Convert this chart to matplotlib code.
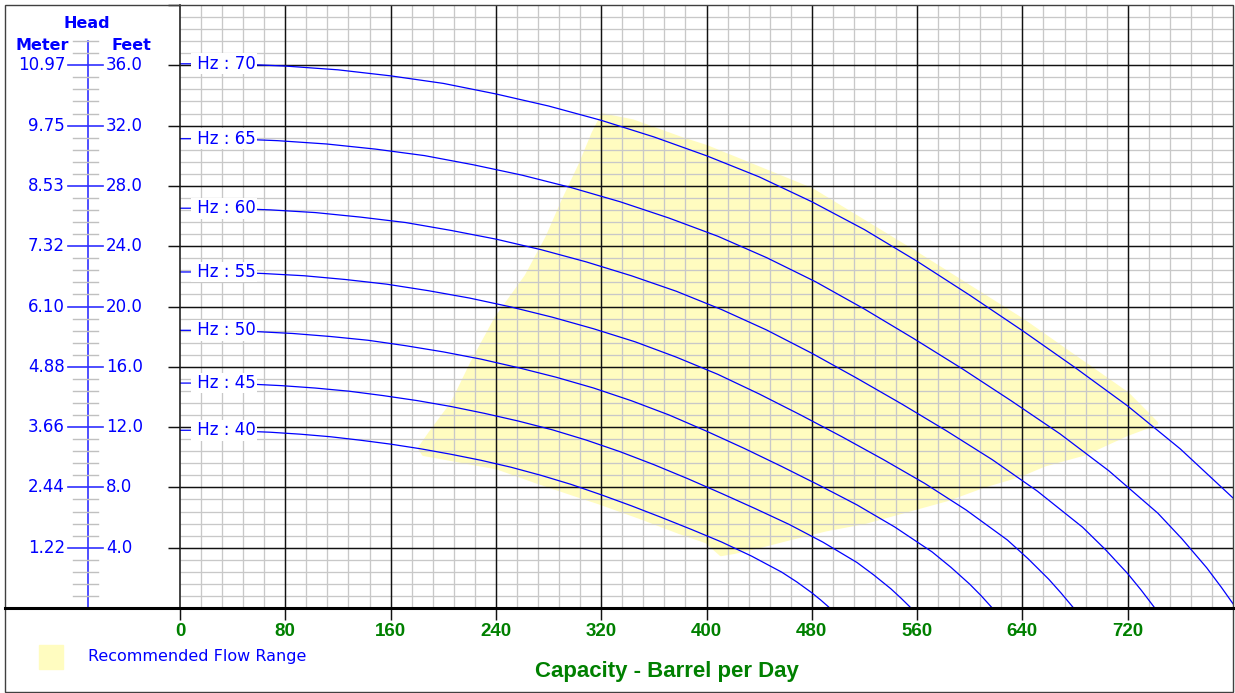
import numpy as np
import matplotlib
matplotlib.use("Agg")
import matplotlib.pyplot as plt
from matplotlib import transforms
from matplotlib.patches import Rectangle
from matplotlib.lines import Line2D
from matplotlib.ticker import FixedLocator

# ---------------- data ----------------
freqs = [70, 65, 60, 55, 50, 45, 40]

q70 = [0, 40, 80, 120, 160, 200, 240, 280, 320, 360, 400, 440, 480, 520, 560, 600, 640, 680, 720, 760, 800, 820, 840, 852, 864]
h70 = [36.1, 36.1, 35.95, 35.7, 35.3, 34.8, 34.1, 33.3, 32.35, 31.25, 30.0, 28.6, 26.95, 25.1, 23.0, 20.75, 18.4, 15.95, 13.4, 10.55, 7.3, 5.3, 3.1, 1.6, 0.0]

q65 = [0, 37.1, 74.3, 111.4, 148.6, 185.7, 222.9, 260.0, 297.1, 334.3, 371.4, 408.6, 445.7, 482.9, 520.0, 557.1, 594.3, 631.4, 668.6, 705.7, 742.9, 761.4, 780.0, 791.1, 802.3]
h65 = [31.13, 31.13, 31.00, 30.78, 30.44, 30.01, 29.40, 28.71, 27.89, 26.95, 25.87, 24.66, 23.24, 21.64, 19.83, 17.89, 15.87, 13.75, 11.55, 9.10, 6.29, 4.57, 2.67, 1.38, 0.0]

q60 = [0, 34.3, 68.6, 102.9, 137.1, 171.4, 205.7, 240.0, 274.3, 308.6, 342.9, 377.1, 411.4, 445.7, 480.0, 514.3, 548.6, 582.9, 617.1, 651.4, 685.7, 702.9, 720.0, 730.3, 740.6]
h60 = [26.52, 26.52, 26.41, 26.23, 25.93, 25.57, 25.05, 24.47, 23.77, 22.96, 22.04, 21.01, 19.80, 18.44, 16.90, 15.24, 13.52, 11.72, 9.84, 7.75, 5.36, 3.89, 2.28, 1.18, 0.0]

q55 = [0, 31.4, 62.9, 94.3, 125.7, 157.1, 188.6, 220.0, 251.4, 282.9, 314.3, 345.7, 377.1, 408.6, 440.0, 471.4, 502.9, 534.3, 565.7, 597.1, 628.6, 644.3, 660.0, 669.4, 678.9]
h55 = [22.29, 22.29, 22.19, 22.04, 21.79, 21.48, 21.05, 20.56, 19.97, 19.29, 18.52, 17.66, 16.64, 15.50, 14.20, 12.81, 11.36, 9.85, 8.27, 6.51, 4.51, 3.27, 1.91, 0.99, 0.0]

q50 = [0, 28.6, 57.1, 85.7, 114.3, 142.9, 171.4, 200.0, 228.6, 257.1, 285.7, 314.3, 342.9, 371.4, 400.0, 428.6, 457.1, 485.7, 514.3, 542.9, 571.4, 585.7, 600.0, 608.6, 617.1]
h50 = [18.42, 18.42, 18.34, 18.21, 18.01, 17.76, 17.40, 16.99, 16.51, 15.94, 15.31, 14.59, 13.75, 12.81, 11.73, 10.59, 9.39, 8.14, 6.84, 5.38, 3.72, 2.70, 1.58, 0.82, 0.0]

q45 = [0, 25.7, 51.4, 77.1, 102.9, 128.6, 154.3, 180.0, 205.7, 231.4, 257.1, 282.9, 308.6, 334.3, 360.0, 385.7, 411.4, 437.1, 462.9, 488.6, 514.3, 527.1, 540.0, 547.7, 555.4]
h45 = [14.92, 14.92, 14.86, 14.75, 14.59, 14.38, 14.09, 13.76, 13.37, 12.91, 12.40, 11.82, 11.14, 10.37, 9.51, 8.58, 7.60, 6.59, 5.54, 4.36, 3.02, 2.19, 1.28, 0.66, 0.0]

q40 = [0, 22.9, 45.7, 68.6, 91.4, 114.3, 137.1, 160.0, 182.9, 205.7, 228.6, 251.4, 274.3, 297.1, 320.0, 342.9, 365.7, 388.6, 411.4, 434.3, 457.1, 468.6, 480.0, 486.9, 493.7]
h40 = [11.79, 11.79, 11.74, 11.66, 11.53, 11.36, 11.13, 10.87, 10.56, 10.20, 9.80, 9.34, 8.80, 8.20, 7.51, 6.78, 6.01, 5.21, 4.38, 3.44, 2.38, 1.73, 1.01, 0.52, 0.0]

curves_q = [q70, q65, q60, q55, q50, q45, q40]
curves_h = [h70, h65, h60, h55, h50, h45, h40]

# recommended flow range outline
range_q = [182, 190, 207, 222, 240, 263, 279, 291, 304, 314, 321, 344, 382, 400, 480, 560, 640, 720, 737, 742,
           719, 688, 657, 638, 611, 583, 558, 521, 491, 463, 441, 421, 411, 400, 380, 350, 318, 304, 270, 241, 210, 185]
range_h = [10.6, 11.6, 13.6, 16.3, 19.2, 22.0, 24.6, 27.0, 29.4, 31.5, 32.7, 32.3, 31.1, 30.6, 27.75, 23.5, 19.1, 14.2, 12.7, 12.25,
           11.5, 10.25, 9.5, 8.8, 8.1, 7.2, 6.6, 5.7, 5.2, 4.6, 4.1, 3.7, 3.55, 4.4, 5.0, 6.0, 7.0, 7.4, 8.4, 9.3, 9.8, 10.2]

x_ticks = [0, 80, 160, 240, 320, 400, 480, 560, 640, 720]
x_tick_labels = ["0", "80", "160", "240", "320", "400", "480", "560", "640", "720"]
feet_ticks = [4.0, 8.0, 12.0, 16.0, 20.0, 24.0, 28.0, 32.0, 36.0]
feet_labels = ["4.0", "8.0", "12.0", "16.0", "20.0", "24.0", "28.0", "32.0", "36.0"]
meter_labels = ["1.22", "2.44", "3.66", "4.88", "6.10", "7.32", "8.53", "9.75", "10.97"]

# ---------------- style ----------------
W, H = 1235, 693
BLUE = "#0000FF"
GREEN = "#008000"
YELLOW = "#FFFCC0"
plt.rcParams["font.family"] = ["DejaVu Sans"]

fig = plt.figure(figsize=(W / 100, H / 100), dpi=100)
fig.patch.set_facecolor("white")

def fx(px):
    return px / W

def fy(py):
    return 1 - py / H

ax = fig.add_axes([fx(180), fy(608), fx(1233) - fx(180), fy(5) - fy(608)])
ax.set_xlim(0, 800)
ax.set_ylim(0, 40)

# grid lines (drawn explicitly so major lines sit on top of minor ones)
x_minor = [v for v in np.arange(0, 801, 16) if v % 80 != 0]
y_minor = [round(v, 2) for v in np.arange(0, 40.01, 0.8) if abs(v / 4 - round(v / 4)) > 1e-6]
y_major = list(np.arange(4, 40, 4))
ax.vlines(x_minor, 0, 40, color="#C8C8C8", lw=0.95, zorder=0.4)
ax.hlines(y_minor, 0, 800, color="#C8C8C8", lw=0.95, zorder=0.4)
ax.vlines(x_ticks[1:], 0, 40, color="#111111", lw=1.05, zorder=0.6)
ax.hlines(y_major, 0, 800, color="#111111", lw=1.05, zorder=0.6)

ax.xaxis.set_major_locator(FixedLocator(x_ticks))
ax.yaxis.set_major_locator(FixedLocator(np.arange(0, 41, 4)))
ax.set_xticklabels(x_tick_labels)
ax.tick_params(axis="x", which="major", direction="out", length=8.6, width=1.05,
               color="#111111", pad=2, labelcolor=GREEN)
ax.tick_params(axis="y", which="major", direction="out", length=8.6, width=1.05,
               color="#111111", labelleft=False)
for lab in ax.get_xticklabels():
    lab.set_fontfamily("Liberation Sans")
    lab.set_fontweight("bold")
    lab.set_fontsize(13.5)

for s in ["top", "right", "bottom"]:
    ax.spines[s].set_visible(False)
ax.spines["left"].set_color("#111111")
ax.spines["left"].set_linewidth(1.1)

# recommended range
ax.fill(range_q, range_h, facecolor=YELLOW, edgecolor=YELLOW, lw=2.5,
        joinstyle="round", zorder=0.2)

# curves
for f, qs, hs in zip(freqs, curves_q, curves_h):
    ax.plot(qs, hs, color=BLUE, lw=0.9, zorder=2, solid_joinstyle="round")
    ax.text(9, hs[0], f" Hz : {f}", color=BLUE, fontsize=12, ha="left", va="center",
            zorder=3, bbox=dict(boxstyle="square,pad=0.08", fc="white", ec="none"))

# left head scale (blue)
bt = transforms.blended_transform_factory(fig.transFigure, ax.transData)
axis_top = 37.6
ax.add_line(Line2D([fx(88), fx(88)], [0, axis_top], transform=bt, color="#3030FF",
                   lw=1.2, clip_on=False))
for v in np.arange(0.8, axis_top + 0.01, 0.8):
    if abs(v / 4 - round(v / 4)) > 1e-6:
        ax.add_line(Line2D([fx(73), fx(98)], [v, v], transform=bt, color="#C0C0C0",
                           lw=1.0, clip_on=False))
for v, fl, ml in zip(feet_ticks, feet_labels, meter_labels):
    ax.add_line(Line2D([fx(68), fx(103)], [v, v], transform=bt, color="#3030FF",
                       lw=1.2, clip_on=False))
    ax.text(fx(65), v, ml, transform=bt, color=BLUE, fontsize=12, ha="right", va="center")
    ax.text(fx(106), v, fl, transform=bt, color=BLUE, fontsize=12, ha="left", va="center")

fig.text(fx(87), fy(23), "Head", color=BLUE, fontsize=11.5, fontweight="bold", ha="center", va="center")
fig.text(fx(42), fy(45), "Meter", color=BLUE, fontsize=11.5, fontweight="bold", ha="center", va="center")
fig.text(fx(131), fy(45), "Feet", color=BLUE, fontsize=11.5, fontweight="bold", ha="center", va="center")

# bottom thick axis line and frame
fig.add_artist(Line2D([fx(5), fx(1233)], [fy(608), fy(608)], transform=fig.transFigure,
                      color="black", lw=2.2))
fig.add_artist(Rectangle((fx(5), fy(692)), fx(1233) - fx(5), fy(5) - fy(692),
                         transform=fig.transFigure, fill=False, ec="#404040", lw=1.0))

# x label
fig.text(fx(667), fy(671), "Capacity - Barrel per Day", color=GREEN, fontsize=16,
         fontfamily="Liberation Sans", fontweight="bold", ha="center", va="center")

# legend
fig.add_artist(Rectangle((fx(39), fy(669)), fx(63) - fx(39), fy(645) - fy(669),
                         transform=fig.transFigure, color=YELLOW))
fig.text(fx(88), fy(657), "Recommended Flow Range", color=BLUE, fontsize=11.5,
         ha="left", va="center")

fig.savefig("out.png", dpi=100)
